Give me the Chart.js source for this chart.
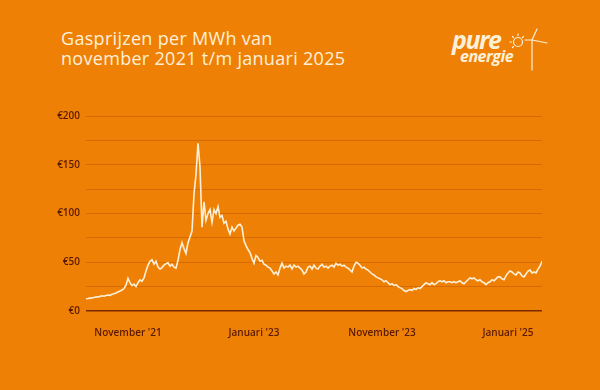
<!DOCTYPE html>
<html>
<head>
<meta charset="utf-8">
<script src="https://cdn.jsdelivr.net/npm/chart.js@4"></script>
<style>
  html, body { margin: 0; padding: 0; }
  body { width: 600px; height: 390px; background: #ef8006; position: relative; overflow: hidden; font-family: "Open Sans", sans-serif; }
  #title { position: absolute; left: 61px; top: 28px; color: #fdf0d8; font-size: 18px; line-height: 20px; letter-spacing: 0.3px; white-space: nowrap; }
  .logo { position: absolute; color: #fdf0d8; font-style: italic; font-weight: 700; line-height: 1; white-space: nowrap; }
  #pure { left: 452px; top: 27px; font-size: 25px; letter-spacing: -1.5px; }
  #energie { left: 460px; top: 48px; font-size: 16px; letter-spacing: -0.5px; }
  #mark { position: absolute; left: 508px; top: 26px; }
  #wrap { position: absolute; left: 0; top: 0; width: 600px; height: 390px; }
</style>
</head>
<body>
<div id="title">Gasprijzen per MWh van<br>november 2021 t/m januari 2025</div>
<span class="logo" id="pure">pure</span>
<span class="logo" id="energie">energie</span>
<svg id="mark" width="44" height="50" viewBox="0 0 44 50">
  <g stroke="#fdf0d8" stroke-width="1.2" fill="none" stroke-linecap="round">
    <circle cx="10" cy="16" r="4.5"/>
    <line x1="10" y1="8" x2="10" y2="9.5"/>
    <line x1="2" y1="16" x2="3.5" y2="16"/>
    <line x1="4.5" y1="10.5" x2="5.5" y2="11.5"/>
    <line x1="15.5" y1="10.5" x2="14.5" y2="11.5"/>
    <line x1="4.5" y1="21.5" x2="5.5" y2="20.5"/>
    <line x1="24" y1="14" x2="24" y2="44"/>
    <path d="M24 14 L29 3 M24 14 L39 17 M24 14 L17 14"/>
  </g>
</svg>
<div id="wrap"><canvas id="gasChart" width="600" height="390"></canvas></div>
<script>
// price per MWh in euro, one value per sample along the period
const prices = [
  12.5, 12.8, 13.2, 13.5, 13.9, 14.6, 14.2, 15.0, 15.6, 15.1,
  16.0, 16.4, 16.1, 17.2, 17.8, 18.5, 19.6, 20.4, 21.5, 23.0,
  26.5, 33.5, 29.0, 26.0, 27.5, 25.0, 29.0, 32.0, 30.5, 34.0,
  41.0, 47.0, 51.0, 52.5, 48.0, 51.0, 45.0, 43.0, 44.5, 47.0,
  48.5, 49.5, 46.0, 48.0, 45.0, 44.0, 52.0, 63.0, 70.0, 64.0,
  59.0, 70.0, 76.0, 82.0, 120.0, 140.0, 172.0, 148.0, 86.0, 112.0,
  93.0, 100.0, 104.0, 91.0, 104.0, 100.0, 107.0, 96.0, 98.0, 90.0,
  92.0, 84.0, 79.0, 86.0, 82.0, 85.0, 88.0, 89.0, 86.0, 72.0,
  67.0, 63.0, 60.0, 54.0, 49.0, 57.0, 55.0, 51.0, 52.0, 48.0,
  47.0, 45.0, 44.0, 41.0, 38.0, 40.0, 37.0, 44.0, 49.0, 44.0,
  46.0, 45.0, 47.0, 43.0, 47.0, 45.0, 46.0, 44.0, 42.0, 38.0,
  40.0, 45.0, 46.0, 43.0, 47.0, 44.0, 43.0, 46.0, 48.0, 45.0,
  46.0, 44.0, 46.0, 47.0, 45.0, 49.0, 47.0, 48.0, 46.0, 47.0,
  45.0, 44.0, 42.0, 40.0, 46.0, 50.0, 49.0, 47.0, 44.0, 45.0,
  43.0, 42.0, 40.0, 38.0, 37.0, 35.0, 34.0, 33.0, 32.0, 30.0,
  31.0, 29.0, 27.0, 28.0, 26.0, 27.0, 25.0, 24.0, 23.0, 21.0,
  20.0, 21.0, 22.0, 21.0, 23.0, 22.0, 24.0, 23.0, 25.0, 27.0,
  29.0, 28.0, 27.0, 29.0, 27.0, 28.0, 30.0, 31.0, 30.0, 31.0,
  29.0, 30.0, 30.0, 29.0, 30.0, 29.0, 30.0, 31.0, 29.0, 28.0,
  30.0, 32.0, 34.0, 33.0, 34.0, 32.0, 31.0, 32.0, 30.0, 29.0,
  27.0, 29.0, 30.0, 32.0, 31.0, 33.0, 35.0, 35.0, 33.0, 32.0,
  36.0, 39.0, 41.0, 40.0, 38.0, 37.0, 40.0, 39.0, 36.0, 35.0,
  38.0, 41.0, 42.0, 39.0, 40.0, 39.0, 43.0, 46.0, 51.0
];

// x-axis labels and the sample index each one sits at
const tickLabels = ["November '21", "Januari '23", "November '23", "Januari '25"];
const tickIndexes = [21, 84, 148, 211];

const yTicks = [0, 50, 100, 150, 200];

const points = prices.map((v, i) => ({ x: i, y: v }));

const ctx = document.getElementById("gasChart").getContext("2d");
new Chart(ctx, {
  type: "line",
  data: {
    datasets: [{
      data: points,
      borderColor: "#fdf0d8",
      borderWidth: 1.6,
      pointRadius: 0,
      tension: 0,
      fill: false
    }]
  },
  options: {
    responsive: false,
    animation: false,
    layout: { padding: { top: 116, right: 58, left: 0, bottom: 0 } },
    plugins: { legend: { display: false }, tooltip: { enabled: false } },
    scales: {
      x: {
        type: "linear",
        min: 0,
        max: prices.length - 1,
        grid: { display: false },
        border: { display: false },
        afterFit: s => { s.height = 79; },
        afterBuildTicks: s => { s.ticks = tickIndexes.map(v => ({ value: v })); },
        ticks: {
          autoSkip: false,
          maxRotation: 0,
          padding: 8,
          color: "#5a1a00",
          font: { family: "Open Sans", size: 10, weight: "600" },
          callback: v => tickLabels[tickIndexes.indexOf(v)]
        }
      },
      y: {
        min: 0,
        max: 200,
        afterFit: s => { s.width = 86; },
        border: { display: false },
        grid: {
          drawTicks: false,
          color: c => c.tick.value === 0 ? "#7a2800" : "#d66a00",
          lineWidth: c => c.tick.value === 0 ? 1.6 : 1
        },
        ticks: {
          stepSize: 25,
          padding: 6,
          color: "#5a1a00",
          font: { family: "Open Sans", size: 10, weight: "600" },
          callback: v => yTicks.includes(v) ? "€" + v : ""
        }
      }
    }
  }
});
</script>
</body>
</html>
